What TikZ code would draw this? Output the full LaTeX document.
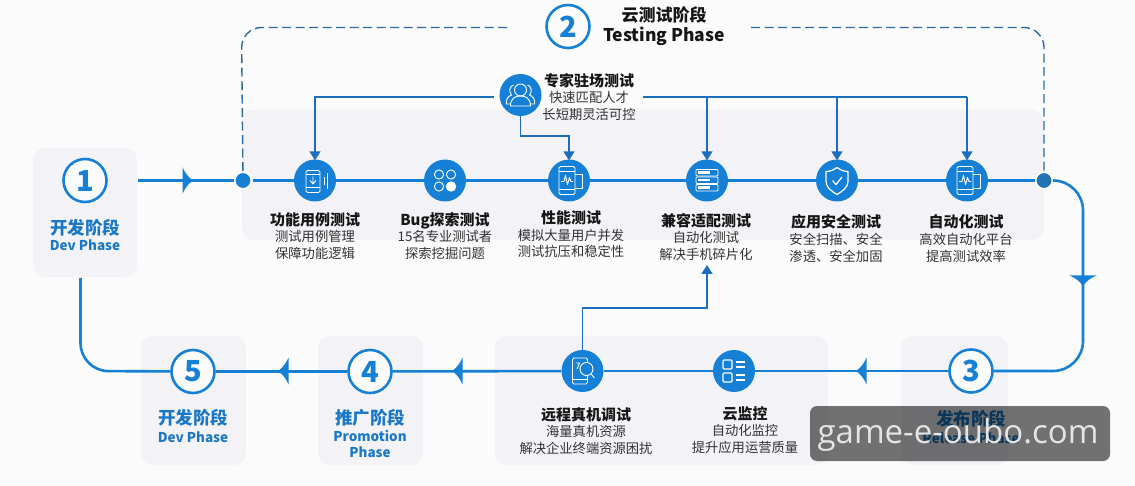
\documentclass[tikz,border=0pt]{standalone}
\usepackage{fontspec}
\setmainfont{Noto Sans CJK SC}
\usetikzlibrary{arrows.meta}
\definecolor{bgc}{HTML}{FBFBFC}
\definecolor{panelc}{HTML}{F3F3F7}
\definecolor{blueA}{HTML}{1580D6}
\definecolor{blueB}{HTML}{1B6DBE}
\definecolor{blueC}{HTML}{2A6BA6}
\definecolor{phasec}{HTML}{1B78C6}
\definecolor{ttlc}{HTML}{161616}
\definecolor{subc}{HTML}{333333}
\newcommand{\ttlf}{\fontsize{15}{17}\selectfont\bfseries\color{ttlc}}
\newcommand{\phasecn}{\fontsize{17.5}{20}\selectfont\bfseries}
\newcommand{\phaseen}{\fontsize{13.5}{16}\selectfont\bfseries}
\newcommand{\spear}[3]{\fill[blueA,shift={(#1,#2)},rotate=#3] (-0.5,-13.5) .. controls (2,-7.5) and (5,-3.5) .. (10,0) .. controls (5,3.5) and (2,7.5) .. (-0.5,13.5) -- cycle;}
\tikzset{
 x=1pt,y=-1pt,
 mainline/.style={draw=blueA,line width=2.6pt},
 thinline/.style={draw=blueB,line width=1.7pt},
 tiparrow/.style={thinline,-{Triangle[length=9pt,width=11pt]},shorten >=-1pt},
 dashline/.style={draw=blueC,line width=1.4pt,dash pattern=on 9pt off 4.5pt,rounded corners=20},
 stage/.style={circle,draw=blueA,line width=2.6pt,fill=bgc,minimum size=43pt,inner sep=0,text=blueA,font=\fontsize{29}{30}\selectfont\bfseries},
 iconc/.style={circle,fill=blueA,minimum size=42pt,inner sep=0},
 dotn/.style={circle,fill=blueA,draw=bgc,line width=2pt,minimum size=17pt,inner sep=0},
 sub/.style={align=center,inner sep=0,text=subc,font=\fontsize{13.3}{16.7}\selectfont,anchor=north},
 phase/.style={align=center,inner sep=0,text=phasec,anchor=center},
 ic/.style={draw=white,line width=0.9pt,fill=none,line join=round},
}
\begin{document}
\begin{tikzpicture}
\useasboundingbox (0,0) rectangle (1135,486);
\fill[bgc] (0,0) rectangle (1135,486);
% panels
\fill[panelc,rounded corners=12] (242,110) rectangle (1044,240);
\fill[panelc,rounded corners=12] (33,148) rectangle (137,277);
\fill[panelc,rounded corners=12] (141,336) rectangle (246,465);
\fill[panelc,rounded corners=12] (318,336) rectangle (423,465);
\fill[panelc,rounded corners=12] (495,336) rectangle (828,465);
\fill[panelc,rounded corners=12] (901,336) rectangle (1008,465);
% nodes
\node[stage] (s1) at (85,180.5) {1};
\node[stage] (s2) at (568,26.5) {2};
\node[stage] (s3) at (971,371) {3};
\node[stage] (s4) at (370,371.5) {4};
\node[stage] (s5) at (193,371.5) {5};
\node[dotn] (dotL) at (243,180.5) {};
\node[dotn,fill=blueC!70!blueA] (dotR) at (1044,180.5) {};
\node[iconc] (f1) at (315,180.5) {};
\node[iconc] (f2) at (445,180.5) {};
\node[iconc] (f3) at (569,180.5) {};
\node[iconc] (f4) at (707,180.5) {};
\node[iconc] (f5) at (837,180.5) {};
\node[iconc] (f6) at (967,180.5) {};
\node[iconc] (exp) at (520.5,95) {};
\node[iconc] (m1) at (582.5,371) {};
\node[iconc] (m2) at (734,371) {};
\coordinate (p1E) at (137.5,180.5);
\coordinate (p1S) at (80.5,278);
\coordinate (cornerBL) at (80.5,371);
\coordinate (cornerTR) at (1083,180.5);
\coordinate (cornerBR) at (1083,371);
\coordinate (dashA) at (507,27.5);
\coordinate (dashB) at (751,27.5);
\coordinate (dashTL) at (241.5,27.5);
\coordinate (dashTR) at (1044,27.5);
\coordinate (expL) at (494,97);
\coordinate (expR) at (643,97);
\coordinate (busL) at (315,97);
\coordinate (bus4) at (707,97);
\coordinate (bus5) at (837,97);
\coordinate (bus6) at (967,97);
\coordinate (expD) at (520.5,136);
\coordinate (expD2) at (569,136);
\coordinate (rem1) at (582.5,308);
\coordinate (rem2) at (707,308);
\coordinate (rem3) at (707,266);
% dashed frame
\draw[dashline] (dashA) -- (dashTL) -- (dotL);
\draw[dashline] (dashB) -- (dashTR) -- (dotR);
% main lines
\draw[mainline] (p1E) -- (dotL);
\draw[mainline] (dotL) -- (f1);
\draw[mainline] (f1) -- (f2);
\draw[mainline] (f2) -- (f3);
\draw[mainline] (f3) -- (f4);
\draw[mainline] (f4) -- (f5);
\draw[mainline] (f5) -- (f6);
\draw[mainline] (f6) -- (dotR);
\draw[mainline,rounded corners=30] (dotR) -- (cornerTR) -- (cornerBR) -- (s3);
\draw[mainline] (s3) -- (m2);
\draw[mainline] (m2) -- (m1);
\draw[mainline] (m1) -- (s4);
\draw[mainline] (s4) -- (s5);
\draw[mainline,rounded corners=28] (s5) -- (cornerBL) -- (p1S);
% flow spears
\spear{183}{180.5}{0}
\spear{1083}{276}{-90}
\spear{866}{371}{180}
\spear{462}{371}{180}
\spear{288}{371}{180}
% thin connectors
\draw[tiparrow] (expL) -- (busL) -- (f1.north);
\draw[tiparrow] (exp.south) -- (expD) -- (expD2) -- (f3.north);
\draw[thinline] (expR) -- (bus6);
\draw[tiparrow] (bus4) -- (f4.north);
\draw[tiparrow] (bus5) -- (f5.north);
\draw[tiparrow] (bus6) -- (f6.north);
\draw[tiparrow] (m1.north) -- (rem1) -- (rem2) -- (rem3);
% icons
\begin{scope}[shift={(f1.center)},ic]
 \draw[rounded corners=1.5] (-9,-10) rectangle (5,12);
 \draw (-9,-6) -- (5,-6) (-9,7) -- (5,7);
 \draw (-2,-4) -- (-2,3) (-5,0) -- (-2,3.5) -- (1,0);
 \draw (9,-3) -- (9,5) (12.5,-7) -- (12.5,9);
\end{scope}
\begin{scope}[shift={(f2.center)},ic]
 \draw (-6,-6) circle (4.6);
 \draw (6,-6) circle (4.6);
 \draw (-6,6) circle (4.6);
 \fill[white] (6,6) circle (5.2);
\end{scope}
\begin{scope}[shift={(f3.center)},ic]
 \draw[rounded corners=1.5] (-10,-14) rectangle (6,14);
 \draw (-10,-9) -- (6,-9) (-10,9) -- (6,9);
 \draw (-8,1) -- (-5,1) -- (-3.5,-5) -- (-1.5,4) -- (0.5,-3) -- (2,1) -- (4,1);
 \draw (6,-6) -- (13,-6) -- (13,8) -- (6,8);
\end{scope}
\begin{scope}[shift={(f4.center)},ic]
 \foreach \yy in {-11,-3.5,4}{
 \draw[rounded corners=1] (-11,\yy) rectangle (11,\yy+6.5);
 \fill[white] (-9,\yy+2) rectangle (3,\yy+4.5);
 }
\end{scope}
\begin{scope}[shift={(f5.center)},ic,line width=1.2pt]
 \draw (0,-13) .. controls (4,-10) and (8,-9) .. (11,-9) -- (11,1) .. controls (11,7) and (5,11) .. (0,14) .. controls (-5,11) and (-11,7) .. (-11,1) -- (-11,-9) .. controls (-8,-9) and (-4,-10) .. (0,-13) -- cycle;
 \draw (-4.5,0) -- (-1,4) -- (5,-3.5);
\end{scope}
\begin{scope}[shift={(f6.center)},ic]
 \draw[rounded corners=1.5] (-10,-14) rectangle (6,14);
 \draw (-10,-9) -- (6,-9) (-10,9) -- (6,9);
 \draw (-8,1) -- (-5,1) -- (-3.5,-5) -- (-1.5,4) -- (0.5,-3) -- (2,1) -- (4,1);
 \draw (6,-6) -- (13,-6) -- (13,8) -- (6,8);
\end{scope}
\begin{scope}[shift={(exp.center)},ic]
 \draw (0,-5) circle (6);
 \draw (-10,11) .. controls (-10,3) and (-5,1) .. (0,1) .. controls (5,1) and (10,3) .. (10,11) -- cycle;
 \draw (-7,-10) .. controls (-11,-9) and (-12,-3) .. (-9,0) .. controls (-12,1) and (-15,4) .. (-14,9) -- (-10,9);
 \draw (7,-10) .. controls (11,-9) and (12,-3) .. (9,0) .. controls (12,1) and (15,4) .. (14,9) -- (10,9);
\end{scope}
\begin{scope}[shift={(m1.center)},ic]
 \draw[rounded corners=1.5] (-10,-13) rectangle (5,13);
 \draw (-10,8) -- (5,8);
 \draw[fill=blueA] (4,-2) circle (6.5);
 \draw (8.5,3) -- (12,7);
 \draw (-7,-8) -- (-3,-8) -- (-5.5,-2);
\end{scope}
\begin{scope}[shift={(m2.center)},ic,line width=1.1pt]
 \draw[rounded corners=1] (-11,-11) rectangle (-2,-2);
 \draw[rounded corners=1] (-11,2) rectangle (-2,11);
 \draw (2,-9) -- (11,-9) (2,-4) -- (11,-4) (2,4) -- (11,4) (2,9) -- (11,9);
\end{scope}
% phase captions
\node[phase,font=\phasecn] (c1a) at (85,228) {开发阶段};
\node[phase,font=\phaseen] (c1b) at (85,245.5) {Dev Phase};
\node[phase,font=\phasecn] (c5a) at (193,418) {开发阶段};
\node[phase,font=\phaseen] (c5b) at (193,437) {Dev Phase};
\node[phase,font=\phasecn] (c4a) at (370,418) {推广阶段};
\node[phase,font=\phaseen,text depth=0pt] (c4b) at (370,436) {Promotion};
\node[phase,font=\phaseen] (c4c) at (370,452) {Phase};
\node[phase,font=\phasecn] (c3a) at (971,419) {发布阶段};
\node[phase,font=\phaseen] (c3b) at (971,438.5) {Release Phase};
\node[inner sep=0,text=ttlc,font=\fontsize{17}{19}\selectfont\bfseries] (c2a) at (664,15) {云测试阶段};
\node[inner sep=0,text=ttlc,font=\fontsize{17.5}{20}\selectfont\bfseries] (c2b) at (664,36) {Testing Phase};
% blocks
\node[sub] (tExp) at (589,73) {{\ttlf 专家驻场测试}\\快速匹配人才\\长短期灵活可控};
\node[sub] (t1) at (315,212) {{\ttlf 功能用例测试}\\测试用例管理\\保障功能逻辑};
\node[sub] (t2) at (445,212) {{\ttlf Bug探索测试}\\15名专业测试者\\探索挖掘问题};
\node[sub] (t3) at (571,210.5) {{\ttlf 性能测试}\\模拟大量用户并发\\测试抗压和稳定性};
\node[sub] (t4) at (706,213) {{\ttlf 兼容适配测试}\\自动化测试\\解决手机碎片化};
\node[sub] (t5) at (836,214.5) {{\ttlf 应用安全测试}\\安全扫描、安全\\渗透、安全加固};
\node[sub] (t6) at (966,214.5) {{\ttlf 自动化测试}\\高效自动化平台\\提高测试效率};
\node[sub] (t7) at (586,407) {{\ttlf 远程真机调试}\\海量真机资源\\解决企业终端资源困扰};
\node[sub] (t8) at (745,406) {{\ttlf 云监控}\\自动化监控\\提升应用运营质量};
% watermark
\fill[black,opacity=0.55,rounded corners=7] (810,406) rectangle (1110,461);
\node[inner sep=0,text=white!92!black,font=\fontsize{33}{36}\selectfont,opacity=0.95] (wm) at (958,435) {\fontspec{Open Sans}game-e-oubo.com};
\end{tikzpicture}
\end{document}
